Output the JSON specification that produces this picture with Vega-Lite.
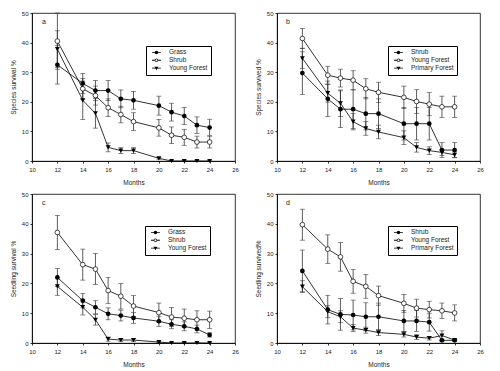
{
"$schema": "https://vega.github.io/schema/vega-lite/v6.json",
"background": "white",
"padding": {"left": 9, "top": 9, "right": 5, "bottom": 5},
"datasets": {
"a": [
{"series":"Grass","month":12,"value":32.5,"se":6.5},{"series":"Grass","month":14,"value":26.2,"se":3.4},{"series":"Grass","month":15,"value":23.8,"se":3.4},{"series":"Grass","month":16,"value":23.8,"se":3.4},{"series":"Grass","month":17,"value":21,"se":3},{"series":"Grass","month":18,"value":20.5,"se":3},{"series":"Grass","month":20,"value":18.7,"se":3.2},{"series":"Grass","month":21,"value":16.5,"se":3},{"series":"Grass","month":22,"value":15.2,"se":2.9},{"series":"Grass","month":23,"value":12.1,"se":2.8},{"series":"Grass","month":24,"value":11.3,"se":2.8},
{"series":"Shrub","month":12,"value":40.5,"se":9.5},{"series":"Shrub","month":14,"value":24.4,"se":3.5},{"series":"Shrub","month":15,"value":22.1,"se":3.2},{"series":"Shrub","month":16,"value":18,"se":3},{"series":"Shrub","month":17,"value":15.7,"se":2.8},{"series":"Shrub","month":18,"value":13.3,"se":3},{"series":"Shrub","month":20,"value":11.2,"se":2.8},{"series":"Shrub","month":21,"value":8.7,"se":2.8},{"series":"Shrub","month":22,"value":8,"se":2.7},{"series":"Shrub","month":23,"value":6.4,"se":2},{"series":"Shrub","month":24,"value":6.4,"se":2},
{"series":"Young Forest","month":12,"value":37.8,"se":6.2},{"series":"Young Forest","month":14,"value":20.5,"se":6.5},{"series":"Young Forest","month":15,"value":16.1,"se":5},{"series":"Young Forest","month":16,"value":4.6,"se":1.5},{"series":"Young Forest","month":17,"value":3.5,"se":1},{"series":"Young Forest","month":18,"value":3.5,"se":1},{"series":"Young Forest","month":20,"value":0.9,"se":0.3},{"series":"Young Forest","month":21,"value":0,"se":0},{"series":"Young Forest","month":22,"value":0,"se":0},{"series":"Young Forest","month":23,"value":0,"se":0},{"series":"Young Forest","month":24,"value":0,"se":0}
],
"b": [
{"series":"Shrub","month":12,"value":29.7,"se":7.2},{"series":"Shrub","month":14,"value":21,"se":6},{"series":"Shrub","month":15,"value":17.5,"se":6.2},{"series":"Shrub","month":16,"value":17.5,"se":6.5},{"series":"Shrub","month":17,"value":16,"se":5.5},{"series":"Shrub","month":18,"value":16,"se":5},{"series":"Shrub","month":20,"value":12.6,"se":5.5},{"series":"Shrub","month":21,"value":12.6,"se":5.5},{"series":"Shrub","month":22,"value":12.6,"se":5.5},{"series":"Shrub","month":23,"value":3.7,"se":2.5},{"series":"Shrub","month":24,"value":3.7,"se":2.5},
{"series":"Young Forest","month":12,"value":41.4,"se":3.4},{"series":"Young Forest","month":14,"value":29,"se":3},{"series":"Young Forest","month":15,"value":28,"se":3},{"series":"Young Forest","month":16,"value":27.3,"se":3.2},{"series":"Young Forest","month":17,"value":24.4,"se":3.4},{"series":"Young Forest","month":18,"value":23.2,"se":3.4},{"series":"Young Forest","month":20,"value":21.5,"se":3.8},{"series":"Young Forest","month":21,"value":20.1,"se":4},{"series":"Young Forest","month":22,"value":19.2,"se":3.9},{"series":"Young Forest","month":23,"value":18.3,"se":3.6},{"series":"Young Forest","month":24,"value":18.3,"se":3.6},
{"series":"Primary Forest","month":12,"value":34.7,"se":3.4},{"series":"Primary Forest","month":14,"value":22.9,"se":3},{"series":"Primary Forest","month":15,"value":19.5,"se":4.5},{"series":"Primary Forest","month":16,"value":13.3,"se":2.8},{"series":"Primary Forest","month":17,"value":11,"se":2.3},{"series":"Primary Forest","month":18,"value":9.8,"se":2.3},{"series":"Primary Forest","month":20,"value":7.9,"se":2.3},{"series":"Primary Forest","month":21,"value":4.6,"se":1.6},{"series":"Primary Forest","month":22,"value":3.5,"se":1.3},{"series":"Primary Forest","month":23,"value":2.9,"se":1},{"series":"Primary Forest","month":24,"value":2.1,"se":1}
],
"c": [
{"series":"Grass","month":12,"value":22,"se":3},{"series":"Grass","month":14,"value":14.2,"se":2.4},{"series":"Grass","month":15,"value":12,"se":2.2},{"series":"Grass","month":16,"value":9.8,"se":2},{"series":"Grass","month":17,"value":9.2,"se":1.8},{"series":"Grass","month":18,"value":8.4,"se":1.8},{"series":"Grass","month":20,"value":7.3,"se":1.7},{"series":"Grass","month":21,"value":6.3,"se":1.5},{"series":"Grass","month":22,"value":5.6,"se":1.5},{"series":"Grass","month":23,"value":4.7,"se":1.3},{"series":"Grass","month":24,"value":2.7,"se":0.7},
{"series":"Shrub","month":12,"value":37.1,"se":5.7},{"series":"Shrub","month":14,"value":26.3,"se":5.2},{"series":"Shrub","month":15,"value":24.8,"se":5.2},{"series":"Shrub","month":16,"value":17.6,"se":4.4},{"series":"Shrub","month":17,"value":15.7,"se":4.3},{"series":"Shrub","month":18,"value":12.4,"se":3.5},{"series":"Shrub","month":20,"value":10.2,"se":3.2},{"series":"Shrub","month":21,"value":8.7,"se":3.2},{"series":"Shrub","month":22,"value":8.3,"se":3.1},{"series":"Shrub","month":23,"value":7.8,"se":3},{"series":"Shrub","month":24,"value":7.8,"se":2.9},
{"series":"Young Forest","month":12,"value":19,"se":3},{"series":"Young Forest","month":14,"value":12,"se":2.6},{"series":"Young Forest","month":15,"value":7.8,"se":1.8},{"series":"Young Forest","month":16,"value":1.3,"se":0.7},{"series":"Young Forest","month":17,"value":1,"se":0.5},{"series":"Young Forest","month":18,"value":1,"se":0.5},{"series":"Young Forest","month":20,"value":0.3,"se":0.2},{"series":"Young Forest","month":21,"value":0,"se":0},{"series":"Young Forest","month":22,"value":0,"se":0},{"series":"Young Forest","month":23,"value":0,"se":0},{"series":"Young Forest","month":24,"value":0,"se":0}
],
"d": [
{"series":"Shrub","month":12,"value":24.2,"se":7},{"series":"Shrub","month":14,"value":11.2,"se":4.8},{"series":"Shrub","month":15,"value":9.6,"se":5.3},{"series":"Shrub","month":16,"value":9.4,"se":5},{"series":"Shrub","month":17,"value":8.8,"se":4.7},{"series":"Shrub","month":18,"value":8.8,"se":4.6},{"series":"Shrub","month":20,"value":7.4,"se":3.5},{"series":"Shrub","month":21,"value":7.4,"se":3.5},{"series":"Shrub","month":22,"value":7,"se":3},{"series":"Shrub","month":23,"value":0.9,"se":0.4},{"series":"Shrub","month":24,"value":0.9,"se":0.3},
{"series":"Young Forest","month":12,"value":39.7,"se":5.2},{"series":"Young Forest","month":14,"value":31.5,"se":4.8},{"series":"Young Forest","month":15,"value":28.9,"se":4.8},{"series":"Young Forest","month":16,"value":20.7,"se":4},{"series":"Young Forest","month":17,"value":19,"se":4},{"series":"Young Forest","month":18,"value":15.9,"se":3.2},{"series":"Young Forest","month":20,"value":13.3,"se":3},{"series":"Young Forest","month":21,"value":11.7,"se":3},{"series":"Young Forest","month":22,"value":11.2,"se":2.8},{"series":"Young Forest","month":23,"value":10.8,"se":2.6},{"series":"Young Forest","month":24,"value":10.1,"se":2.7},
{"series":"Primary Forest","month":12,"value":18.9,"se":2},{"series":"Primary Forest","month":14,"value":10.5,"se":2},{"series":"Primary Forest","month":15,"value":8.8,"se":2},{"series":"Primary Forest","month":16,"value":5,"se":1.2},{"series":"Primary Forest","month":17,"value":4.3,"se":1},{"series":"Primary Forest","month":18,"value":3.5,"se":1},{"series":"Primary Forest","month":20,"value":2.9,"se":0.9},{"series":"Primary Forest","month":21,"value":2,"se":0.8},{"series":"Primary Forest","month":22,"value":1.6,"se":0.6},{"series":"Primary Forest","month":23,"value":2.5,"se":1.6},{"series":"Primary Forest","month":24,"value":1,"se":0.3}
]
},
"columns": 2,
"spacing": {"row": 33, "column": 42},
"bounds": "flush",
"resolve": {"scale": {"shape": "independent"}},
"concat": [
{
"width": 203, "height": 148,
"data": {"name": "a"},
"title": {"text": "a", "anchor": "start", "frame": "group", "dx": 10, "offset": -15},
"encoding": {
"x": {"field": "month", "type": "quantitative", "scale": {"domain": [10, 26], "nice": false, "zero": false}, "axis": {"values": [10,12,14,16,18,20,22,24,26], "title": "Months", "labelFlush": false}},
"y": {"field": "value", "type": "quantitative", "scale": {"domain": [0, 50], "nice": false}, "axis": {"values": [0,10,20,30,40,50], "title": "Species survival %"}}
},
"layer": [
{"mark": {"type": "errorbar", "ticks": {"size": 5}, "color": "#333", "thickness": 0.8}, "encoding": {"yError": {"field": "se"}}},
{"mark": {"type": "line", "color": "black", "strokeWidth": 0.8}, "encoding": {"detail": {"field": "series"}}},
{"transform": [{"filter": {"field": "series", "equal": "Grass"}}], "mark": {"type": "point", "shape": "circle", "filled": true, "color": "black", "size": 22, "opacity": 1}},
{"transform": [{"filter": {"field": "series", "equal": "Shrub"}}], "mark": {"type": "point", "shape": "circle", "filled": true, "fill": "white", "stroke": "black", "strokeWidth": 0.7, "size": 22, "opacity": 1}},
{"transform": [{"filter": {"field": "series", "equal": "Young Forest"}}], "mark": {"type": "point", "shape": "triangle-down", "filled": true, "color": "black", "size": 24, "opacity": 1}},
{"mark": {"type": "point", "filled": true, "color": "black", "strokeWidth": 0, "size": 12, "opacity": 0},
 "encoding": {"shape": {"field": "series", "scale": {"domain": ["Grass","Shrub","Young Forest"], "range": ["M-2.55,-0.23H2.55V0.23H-2.55Z M1,0A1,1,0,1,1,-1,0A1,1,0,1,1,1,0Z","M-2.55,-0.23H-0.9V0.23H-2.55Z M0.9,-0.23H2.55V0.23H0.9Z M1,0A1,1,0,1,1,-1,0A1,1,0,1,1,1,0Z M0.6,0A0.6,0.6,0,1,0,-0.6,0A0.6,0.6,0,1,0,0.6,0Z","M-2.55,-0.23H2.55V0.23H-2.55Z M-1.15,-0.75L1.15,-0.75L0,1.2Z"]},
   "legend": {"title": null, "orient": "none", "legendX": 114, "legendY": 33, "strokeColor": "black", "fillColor": "white", "padding": 3.2, "symbolSize": 12, "symbolOffset": 4, "labelOffset": 9.3, "labelFontSize": 6.5, "rowPadding": 0.8, "symbolOpacity": 1, "symbolStrokeWidth": 0, "symbolFillColor": "black"}}}}
]
},
{
"width": 203, "height": 148,
"data": {"name": "b"},
"title": {"text": "b", "anchor": "start", "frame": "group", "dx": 9, "offset": -15},
"encoding": {
"x": {"field": "month", "type": "quantitative", "scale": {"domain": [10, 26], "nice": false, "zero": false}, "axis": {"values": [10,12,14,16,18,20,22,24,26], "title": "Months", "labelFlush": false}},
"y": {"field": "value", "type": "quantitative", "scale": {"domain": [0, 50], "nice": false}, "axis": {"values": [0,10,20,30,40,50], "title": "Species survived %"}}
},
"layer": [
{"mark": {"type": "errorbar", "ticks": {"size": 5}, "color": "#333", "thickness": 0.8}, "encoding": {"yError": {"field": "se"}}},
{"mark": {"type": "line", "color": "black", "strokeWidth": 0.8}, "encoding": {"detail": {"field": "series"}}},
{"transform": [{"filter": {"field": "series", "equal": "Shrub"}}], "mark": {"type": "point", "shape": "circle", "filled": true, "color": "black", "size": 22, "opacity": 1}},
{"transform": [{"filter": {"field": "series", "equal": "Young Forest"}}], "mark": {"type": "point", "shape": "circle", "filled": true, "fill": "white", "stroke": "black", "strokeWidth": 0.7, "size": 22, "opacity": 1}},
{"transform": [{"filter": {"field": "series", "equal": "Primary Forest"}}], "mark": {"type": "point", "shape": "triangle-down", "filled": true, "color": "black", "size": 24, "opacity": 1}},
{"mark": {"type": "point", "filled": true, "color": "black", "strokeWidth": 0, "size": 12, "opacity": 0},
 "encoding": {"shape": {"field": "series", "scale": {"domain": ["Shrub","Young Forest","Primary Forest"], "range": ["M-2.55,-0.23H2.55V0.23H-2.55Z M1,0A1,1,0,1,1,-1,0A1,1,0,1,1,1,0Z","M-2.55,-0.23H-0.9V0.23H-2.55Z M0.9,-0.23H2.55V0.23H0.9Z M1,0A1,1,0,1,1,-1,0A1,1,0,1,1,1,0Z M0.6,0A0.6,0.6,0,1,0,-0.6,0A0.6,0.6,0,1,0,0.6,0Z","M-2.55,-0.23H2.55V0.23H-2.55Z M-1.15,-0.75L1.15,-0.75L0,1.2Z"]},
   "legend": {"title": null, "orient": "none", "legendX": 111, "legendY": 33, "strokeColor": "black", "fillColor": "white", "padding": 3.2, "symbolSize": 12, "symbolOffset": 4, "labelOffset": 9.3, "labelFontSize": 6.5, "rowPadding": 0.8, "symbolOpacity": 1, "symbolStrokeWidth": 0, "symbolFillColor": "black"}}}}
]
},
{
"width": 203, "height": 149,
"data": {"name": "c"},
"title": {"text": "c", "anchor": "start", "frame": "group", "dx": 10, "offset": -15},
"encoding": {
"x": {"field": "month", "type": "quantitative", "scale": {"domain": [10, 26], "nice": false, "zero": false}, "axis": {"values": [10,12,14,16,18,20,22,24,26], "title": "Months", "labelFlush": false}},
"y": {"field": "value", "type": "quantitative", "scale": {"domain": [0, 50], "nice": false}, "axis": {"values": [0,10,20,30,40,50], "title": "Seedling survival %"}}
},
"layer": [
{"mark": {"type": "errorbar", "ticks": {"size": 5}, "color": "#333", "thickness": 0.8}, "encoding": {"yError": {"field": "se"}}},
{"mark": {"type": "line", "color": "black", "strokeWidth": 0.8}, "encoding": {"detail": {"field": "series"}}},
{"transform": [{"filter": {"field": "series", "equal": "Grass"}}], "mark": {"type": "point", "shape": "circle", "filled": true, "color": "black", "size": 22, "opacity": 1}},
{"transform": [{"filter": {"field": "series", "equal": "Shrub"}}], "mark": {"type": "point", "shape": "circle", "filled": true, "fill": "white", "stroke": "black", "strokeWidth": 0.7, "size": 22, "opacity": 1}},
{"transform": [{"filter": {"field": "series", "equal": "Young Forest"}}], "mark": {"type": "point", "shape": "triangle-down", "filled": true, "color": "black", "size": 24, "opacity": 1}},
{"mark": {"type": "point", "filled": true, "color": "black", "strokeWidth": 0, "size": 12, "opacity": 0},
 "encoding": {"shape": {"field": "series", "scale": {"domain": ["Grass","Shrub","Young Forest"], "range": ["M-2.55,-0.23H2.55V0.23H-2.55Z M1,0A1,1,0,1,1,-1,0A1,1,0,1,1,1,0Z","M-2.55,-0.23H-0.9V0.23H-2.55Z M0.9,-0.23H2.55V0.23H0.9Z M1,0A1,1,0,1,1,-1,0A1,1,0,1,1,1,0Z M0.6,0A0.6,0.6,0,1,0,-0.6,0A0.6,0.6,0,1,0,0.6,0Z","M-2.55,-0.23H2.55V0.23H-2.55Z M-1.15,-0.75L1.15,-0.75L0,1.2Z"]},
   "legend": {"title": null, "orient": "none", "legendX": 113, "legendY": 32, "strokeColor": "black", "fillColor": "white", "padding": 3.2, "symbolSize": 12, "symbolOffset": 4, "labelOffset": 9.3, "labelFontSize": 6.5, "rowPadding": 0.8, "symbolOpacity": 1, "symbolStrokeWidth": 0, "symbolFillColor": "black"}}}}
]
},
{
"width": 203, "height": 149,
"data": {"name": "d"},
"title": {"text": "d", "anchor": "start", "frame": "group", "dx": 9, "offset": -15},
"encoding": {
"x": {"field": "month", "type": "quantitative", "scale": {"domain": [10, 26], "nice": false, "zero": false}, "axis": {"values": [10,12,14,16,18,20,22,24,26], "title": "Months", "labelFlush": false}},
"y": {"field": "value", "type": "quantitative", "scale": {"domain": [0, 50], "nice": false}, "axis": {"values": [0,10,20,30,40,50], "title": "Seedling survived%"}}
},
"layer": [
{"mark": {"type": "errorbar", "ticks": {"size": 5}, "color": "#333", "thickness": 0.8}, "encoding": {"yError": {"field": "se"}}},
{"mark": {"type": "line", "color": "black", "strokeWidth": 0.8}, "encoding": {"detail": {"field": "series"}}},
{"transform": [{"filter": {"field": "series", "equal": "Shrub"}}], "mark": {"type": "point", "shape": "circle", "filled": true, "color": "black", "size": 22, "opacity": 1}},
{"transform": [{"filter": {"field": "series", "equal": "Young Forest"}}], "mark": {"type": "point", "shape": "circle", "filled": true, "fill": "white", "stroke": "black", "strokeWidth": 0.7, "size": 22, "opacity": 1}},
{"transform": [{"filter": {"field": "series", "equal": "Primary Forest"}}], "mark": {"type": "point", "shape": "triangle-down", "filled": true, "color": "black", "size": 24, "opacity": 1}},
{"mark": {"type": "point", "filled": true, "color": "black", "strokeWidth": 0, "size": 12, "opacity": 0},
 "encoding": {"shape": {"field": "series", "scale": {"domain": ["Shrub","Young Forest","Primary Forest"], "range": ["M-2.55,-0.23H2.55V0.23H-2.55Z M1,0A1,1,0,1,1,-1,0A1,1,0,1,1,1,0Z","M-2.55,-0.23H-0.9V0.23H-2.55Z M0.9,-0.23H2.55V0.23H0.9Z M1,0A1,1,0,1,1,-1,0A1,1,0,1,1,1,0Z M0.6,0A0.6,0.6,0,1,0,-0.6,0A0.6,0.6,0,1,0,0.6,0Z","M-2.55,-0.23H2.55V0.23H-2.55Z M-1.15,-0.75L1.15,-0.75L0,1.2Z"]},
   "legend": {"title": null, "orient": "none", "legendX": 111, "legendY": 32, "strokeColor": "black", "fillColor": "white", "padding": 3.2, "symbolSize": 12, "symbolOffset": 4, "labelOffset": 9.3, "labelFontSize": 6.5, "rowPadding": 0.8, "symbolOpacity": 1, "symbolStrokeWidth": 0, "symbolFillColor": "black"}}}}
]
}
],
"config": {
"font": "Liberation Sans",
"view": {"stroke": "black", "strokeWidth": 0.8},
"title": {"fontSize": 7, "fontWeight": "normal", "color": "#222", "font": "Liberation Sans"},
"axis": {"grid": false, "domainColor": "black", "domainWidth": 0.8, "tickColor": "black", "tickWidth": 0.8, "tickSize": 2, "labelPadding": 2, "labelFontSize": 6, "titleFontSize": 6.5, "titleFontWeight": "normal", "labelColor": "#222", "titleColor": "#222", "labelFont": "Liberation Sans", "titleFont": "Liberation Sans"},
"axisX": {"labelPadding": 3.5, "titlePadding": 7},
"axisY": {"titlePadding": 5},
"legend": {"labelFont": "Liberation Sans", "labelColor": "#222"}
}
}
